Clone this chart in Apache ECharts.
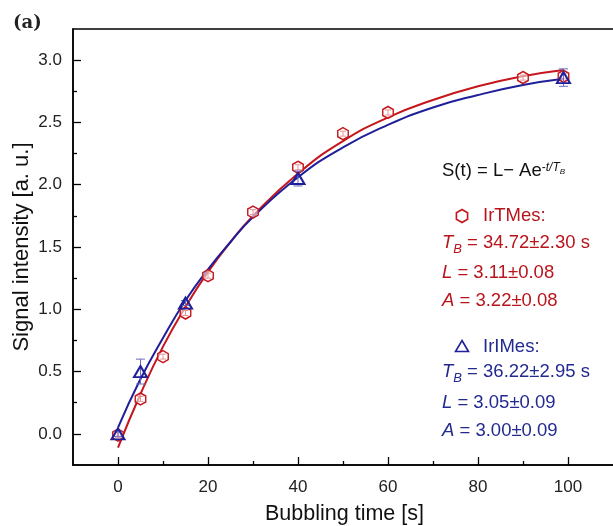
<!DOCTYPE html>
<html>
<head>
<meta charset="utf-8">
<script src="https://cdn.jsdelivr.net/npm/echarts@6/dist/echarts.min.js"></script>
<style>
html,body{margin:0;padding:0;background:#fff;}
#chart{width:613px;height:526px;}
</style>
</head>
<body>
<div id="chart"></div>
<script>
// ---- data ----
const tRed = [0, 5, 10, 15, 20, 30, 40, 50, 60, 90, 99];
const yRed = [-0.01, 0.28, 0.62, 0.97, 1.27, 1.78, 2.14, 2.41, 2.58, 2.86, 2.87];
const redErr = [0.02, 0.02, 0.02, 0.02, 0.02, 0.02, 0.02, 0.02, 0.02, 0.02, 0.02];

const tBlue = [0, 5, 15, 40, 99];
const yBlue = [0.00, 0.50, 1.05, 2.05, 2.86];
const blueErr = [0.02, 0.10, 0.02, 0.06, 0.07];

const fitT = [0, 5, 10, 15, 20, 25, 30, 40, 50, 60, 70, 80, 90, 99];
const fitRed = [-0.11, 0.32, 0.70, 1.02, 1.30, 1.54, 1.75, 2.09, 2.35, 2.54, 2.68, 2.79, 2.87, 2.92];
const fitBlue = [0.05, 0.44, 0.77, 1.07, 1.32, 1.54, 1.74, 2.06, 2.30, 2.48, 2.62, 2.72, 2.80, 2.85];

const xMajorTicks = [0, 20, 40, 60, 80, 100];
const xMinorTicks = [10, 30, 50, 70, 90];
const yMajorTicks = [0, 0.5, 1.0, 1.5, 2.0, 2.5, 3.0];
const yMinorTicks = [0.25, 0.75, 1.25, 1.75, 2.25, 2.75];

// ---- styling ----
const RED = '#c4161c';
const BLUE = '#1f1f9a';
const RED_TXT = '#b8141b';
const BLUE_TXT = '#222a8f';
const FAM = '"Liberation Sans", Arial, sans-serif';
const FS = 18.5;

const zip = (a, b) => a.map((v, i) => [v, b[i]]);
const hexPath = 'path://M0,-1 L0.866,-0.5 L0.866,0.5 L0,1 L-0.866,0.5 L-0.866,-0.5 Z';

function errBarSeries(name, ts, ys, errs, color, cap, z) {
  return {
    type: 'custom', name, z,
    xAxisIndex: 0, yAxisIndex: 0,
    data: ts.map((t, i) => [t, ys[i] - errs[i], ys[i] + errs[i]]),
    renderItem: (params, api) => {
      const lo = api.coord([api.value(0), api.value(1)]);
      const hi = api.coord([api.value(0), api.value(2)]);
      const st = { stroke: color, lineWidth: 1 };
      return {
        type: 'group',
        children: [
          { type: 'line', shape: { x1: lo[0], y1: lo[1], x2: hi[0], y2: hi[1] }, style: st },
          { type: 'line', shape: { x1: lo[0] - cap, y1: lo[1], x2: lo[0] + cap, y2: lo[1] }, style: st },
          { type: 'line', shape: { x1: hi[0] - cap, y1: hi[1], x2: hi[0] + cap, y2: hi[1] }, style: st }
        ]
      };
    }
  };
}

const chart = echarts.init(document.getElementById('chart'), null, { renderer: 'canvas' });

const mainRich = {
  n: { font: FS + 'px ' + FAM },
  i: { font: 'italic ' + FS + 'px ' + FAM },
  sub: { font: 'italic 13px ' + FAM, verticalAlign: 'bottom' },
  sup: { font: '12px ' + FAM, verticalAlign: 'top', padding: [4, 0, 0, 0] },
  supi: { font: 'italic 12px ' + FAM, verticalAlign: 'top', padding: [4, 0, 0, 0] },
  supsub: { font: 'italic 8px ' + FAM, verticalAlign: 'top', padding: [10, 0, 0, 0] }
};

function txt(x, baseline, text, color) {
  return {
    type: 'text', x: x, y: baseline - 6.5, z: 10,
    style: {
      text: text, fill: color, font: FS + 'px ' + FAM, lineHeight: 26,
      rich: mainRich, align: 'left', verticalAlign: 'middle',
      textAlign: 'left', textVerticalAlign: 'middle'
    }
  };
}

const option = {
  animation: false,
  backgroundColor: '#fff',
  grid: { left: 73, top: 29, right: -3, bottom: 61, show: true, borderColor: '#000', borderWidth: 1.5,
    backgroundColor: 'transparent', containLabel: false, outerBoundsMode: 'none' },
  xAxis: [
    {
      type: 'value', min: -10, max: 110.67, position: 'bottom',
      name: 'Bubbling time [s]', nameLocation: 'middle', nameGap: 38, nameMoveOverlap: false,
      nameTextStyle: { fontSize: 21.5, color: '#111', fontFamily: FAM },
      axisLine: { show: true, onZero: false, lineStyle: { color: '#000', width: 1.5 } },
      axisTick: { show: true, inside: true, length: 8, customValues: xMajorTicks, lineStyle: { color: '#000', width: 1.3 } },
      axisLabel: { show: true, customValues: xMajorTicks, margin: 14, fontSize: 17, color: '#222', fontFamily: FAM },
      splitLine: { show: false }
    },
    {
      type: 'value', min: -10, max: 110.67, position: 'bottom', offset: 0,
      axisLine: { show: false, onZero: false },
      axisTick: { show: true, inside: true, length: 4, customValues: xMinorTicks, lineStyle: { color: '#000', width: 1.3 } },
      axisLabel: { show: false },
      splitLine: { show: false }
    }
  ],
  yAxis: [
    {
      type: 'value', min: -0.25, max: 3.25, position: 'left',
      name: 'Signal intensity [a. u.]', nameLocation: 'middle', nameGap: 40, nameMoveOverlap: false,
      nameTextStyle: { fontSize: 22, color: '#111', fontFamily: FAM },
      axisLine: { show: true, onZero: false, lineStyle: { color: '#000', width: 1.5 } },
      axisTick: { show: true, inside: true, length: 8, customValues: yMajorTicks, lineStyle: { color: '#000', width: 1.3 } },
      axisLabel: { show: true, customValues: yMajorTicks, margin: 11, fontSize: 17, color: '#222', fontFamily: FAM,
        formatter: v => Number(v).toFixed(1) },
      splitLine: { show: false }
    },
    {
      type: 'value', min: -0.25, max: 3.25, position: 'left', offset: 0,
      axisLine: { show: false, onZero: false },
      axisTick: { show: true, inside: true, length: 4, customValues: yMinorTicks, lineStyle: { color: '#000', width: 1.3 } },
      axisLabel: { show: false },
      splitLine: { show: false }
    }
  ],
  series: [
    {
      type: 'line', name: 'fitRed', data: zip(fitT, fitRed), smooth: true, showSymbol: false, z: 2,
      lineStyle: { color: RED, width: 2 }, xAxisIndex: 0, yAxisIndex: 0
    },
    {
      type: 'line', name: 'fitBlue', data: zip(fitT, fitBlue), smooth: true, showSymbol: false, z: 2,
      lineStyle: { color: BLUE, width: 2 }, xAxisIndex: 0, yAxisIndex: 0
    },
    errBarSeries('errRed', tRed, yRed, redErr, RED, 3, 3),
    {
      type: 'scatter', name: 'IrTMes', data: zip(tRed, yRed), z: 4,
      symbol: hexPath, symbolSize: [10.5, 12], symbolKeepAspect: false,
      itemStyle: { color: 'rgba(255,255,255,0.55)', borderColor: RED, borderWidth: 1.5, opacity: 1 }
    },
    errBarSeries('errBlue', tBlue, yBlue, blueErr, '#6b6bbd', 4.5, 5),
    {
      type: 'scatter', name: 'IrIMes', data: zip(tBlue, yBlue), z: 6,
      symbol: 'triangle', symbolSize: [13, 11],
      itemStyle: { color: 'rgba(255,255,255,0)', borderColor: BLUE, borderWidth: 2, opacity: 1 }
    }
  ],
  graphic: [
    {
      type: 'text', x: 13, y: 23, z: 10,
      style: { text: '(a)', fill: '#222', font: 'bold 18px "DejaVu Serif", "Liberation Serif", serif',
        align: 'left', verticalAlign: 'middle', textAlign: 'left', textVerticalAlign: 'middle' }
    },
    txt(442, 177, 'S(t) = L\u2212 Ae{sup|-}{supi|t/T}{supsub|B}', '#111'),
    { type: 'polygon', z: 10, shape: { points: [[462, 209.5], [467.6, 212.8], [467.6, 219.2], [462, 222.5], [456.4, 219.2], [456.4, 212.8]] },
      style: { fill: 'none', stroke: RED, lineWidth: 1.6 } },
    txt(483, 222, 'IrTMes:', RED_TXT),
    txt(442, 249.5, '{i|T}{sub|B} = 34.72\u00b12.30 s', RED_TXT),
    txt(442, 279.5, '{i|L} = 3.11\u00b10.08', RED_TXT),
    txt(442, 307, '{i|A} = 3.22\u00b10.08', RED_TXT),
    { type: 'polygon', z: 10, shape: { points: [[462, 340.5], [468.5, 351.5], [455.5, 351.5]] },
      style: { fill: 'none', stroke: BLUE, lineWidth: 1.6 } },
    txt(483, 353.5, 'IrIMes:', BLUE_TXT),
    txt(442, 378.5, '{i|T}{sub|B} = 36.22\u00b12.95 s', BLUE_TXT),
    txt(442, 409.5, '{i|L} = 3.05\u00b10.09', BLUE_TXT),
    txt(442, 437, '{i|A} = 3.00\u00b10.09', BLUE_TXT)
  ]
};

chart.setOption(option);
</script>
</body>
</html>
